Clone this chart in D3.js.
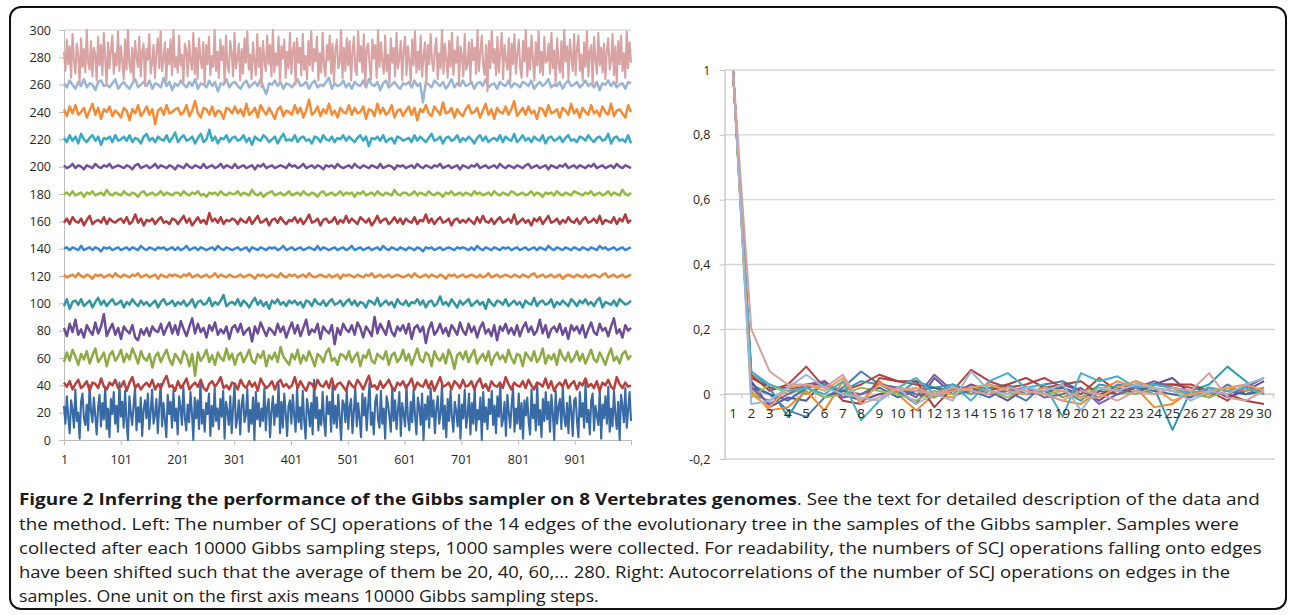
<!DOCTYPE html>
<html><head><meta charset="utf-8">
<script src="https://cdn.jsdelivr.net/npm/d3@7"></script>
<style>body{margin:0;background:#fff}svg{display:block}</style>
</head><body><svg id="c" width="1290" height="615"></svg>
<script>
// ---------- LEFT PANEL DATA ----------
const traceMeans = [20,40,60,80,100,120,140,160,180,200,220,240,260,280];
const traceColors = ["#386aa6","#b8403d","#8cab45","#6b4c96","#3196a4","#e8893a","#3d85cf","#b23b3b","#93ba41","#7250a1","#39a9c4","#f58b34","#98b4d6","#d9a3a3"];
const xTicksLeft = [1,101,201,301,401,501,601,701,801,901];
const yTicksLeft = [0,20,40,60,80,100,120,140,160,180,200,220,240,260,280,300];
// deviations from each edge's mean (thinned samples)
const dev20 = [5,-8,12,-3,-15,9,2,-11,17,-6,0,-19,8,14,-4,-9,6,-13,20,1,
-7,11,-2,-16,4,13,-10,7,-5,19,-12,3,-18,10,-1,15,-8,5,-14,22,
-3,8,-11,16,-6,-20,12,0,-9,6,18,-13,4,-7,11,-17,2,9,-4,14,
-12,1,17,-8,-2,10,-15,5,21,-10,7,-5,-18,13,-1,8,-11,16,-6,3,
-16,12,4,-9,19,-3,-13,6,-7,15,0,-20,11,-4,9,-12,23,-8,2,-14,
7,-1,14,-17,5,-10,18,-6,3,-12,10,-3,16,-19,8,1,-9,12,-15,4,
20,-11,-4,9,-16,6,13,-7,-2,17,-14,2,-8,11,-20,15,-5,7,-10,3,
-6,18,-13,4,10,-18,1,12,-9,6,-3,21,-15,8,-11,14,0,-17,5,9,
-8,13,-2,-14,19,-7,4,-12,16,-5,-19,10,3,-10,7,-16,24,-4,11,-13,
2,-9,15,-6,-17,12,-1,8,-14,20,-8,5,-11,13,-3,-20,9,6,-7,17,
-12,4,10,-15,1,18,-10,7,-4,-18,14,-2,11,-13,5,22,-9,0,-16,8,
13,-5,-11,16,-8,3,-19,12,6,-3,-14,19,-6,9,-12,2,15,-17,7,-1,
-10,20,-4,-13,8,-7,17,-2,-16,11,4,-9,14,-20,6,-5,12,-11,18,-3,
9,-15,3,12,-8,-1,21,-12,5,-18,10,-6,16,-3,-14,8,1,-10,13,-19,
6,-4,17,-11,-2,14,-16,7,-8,19,-13,2,-5,11,-20,15,-7,4,-12,10,
-1,16,-9,5,-15,12,-3,20,-10,-5,8,-17,13,0,-11,6,18,-14,3,-8,
14,-12,7,-19,9,-2,11,-7,-16,17,-4,6,-13,21,-9,2,-18,10,-6,15,
-5,8,-14,13,-1,-20,16,-8,4,10,-12,19,-3,-10,7,-15,12,1,-17,9,
11,-6,-18,15,-3,7,-11,22,-7,2,-16,9,14,-13,5,-2,-9,17,-19,6,
-4,12,-8,19,-14,3,-10,16,-1,-12,8,-20,13,5,-7,18,-11,2,15,-6];
const dev40 = [2,-1,3,-3,1,4,-2,0,3,-4,2,1,-2,5,-1,-3,2,0,4,-2,
-1,3,-4,2,6,-2,1,-3,0,2,-1,4,-3,1,-2,3,7,-1,0,-4,
3,-2,1,5,-3,0,2,-1,4,-2,-4,1,3,-1,2,6,-2,0,-3,2,
1,-3,4,0,-2,3,-1,2,-4,5,1,-2,0,3,-3,2,4,-1,1,-2,
0,6,-2,3,-1,-4,2,1,-3,4,0,-1,3,-2,5,-3,1,2,-1,-4,
3,0,-2,4,1,-3,2,7,-1,0,-3,3,-2,1,4,-1,-4,2,0,3,
-2,1,5,-3,2,0,-1,4,-2,3,-4,1,6,-1,0,2,-3,3,1,-2,
4,-1,0,3,-3,2,5,-2,1,-4,3,0,-1,2,-2,6,1,-3,2,0,
-1,3,-2,4,0,-3,2,1,-1,5,-2,3,-4,0,2,-1,4,-2,1,3,
-3,2,0,5,-1,1,-2,3,-4,2,0,4,-1,-3,6,1,-2,2,-1,0];
const dev60 = [-3,4,-2,6,1,-5,3,-1,5,-4,2,7,-3,0,4,-6,2,5,-2,1,
6,-3,3,-1,7,2,-4,5,0,-2,3,-7,1,4,-3,2,6,-1,-5,3,
0,-4,5,2,-6,3,-13,4,-2,1,6,-3,2,-5,4,0,-2,7,-1,3,
-5,2,4,-3,1,6,-2,-4,3,0,5,-6,2,-1,4,-3,8,1,-2,-5,
3,-1,6,-4,2,-2,5,0,-6,3,1,-3,4,7,-2,0,-5,3,2,-1,
5,-3,1,4,-6,2,0,6,-2,-4,3,1,-1,5,-5,2,4,-3,0,6,
-2,3,-5,1,7,-1,-3,4,2,-6,5,0,-2,3,-4,6,1,-8,2,4,
-1,5,-3,2,6,-4,0,3,-2,5,-5,1,4,-1,2,-3,6,0,-4,3,
2,-6,4,1,-2,5,-3,0,7,-4,2,-1,3,-5,6,1,-2,4,-3,0,
5,-2,3,-4,1,6,-1,-3,4,0,-5,2,7,-2,1,-4,3,5,-1,2];
const dev80 = [2,-4,5,-1,8,-3,1,-5,4,0,-3,6,-2,3,12,-4,1,5,-3,2,
-6,3,0,-2,4,-5,-7,1,-3,2,-4,3,0,-1,5,-3,2,6,-2,4,
-3,7,1,-4,3,9,-2,5,-1,2,-5,4,0,6,-3,1,-2,3,-6,2,
4,-1,5,-3,0,2,-8,3,-2,6,1,-4,2,0,-3,5,-1,3,-5,1,
6,-2,4,-4,2,8,-3,1,-1,5,-6,3,0,-2,4,-10,2,-3,5,1,
-1,4,-3,6,2,-5,3,0,-4,10,-2,5,1,-3,7,-1,-4,3,0,4,
-2,5,-6,2,4,-1,3,-9,1,6,-3,0,5,-2,2,-4,4,1,-3,6,
0,-3,5,-1,3,-5,2,6,-2,1,-4,4,-7,3,0,5,-2,2,-3,4,
-4,2,6,-1,3,-3,0,8,-2,4,-5,1,3,-1,5,-3,2,-6,4,0,
3,-2,4,-5,1,6,-1,-3,5,0,2,-4,3,9,-2,1,-5,4,0,2];
const dev100 = [-2,3,-4,1,2,-1,3,-2,0,2,-3,1,4,-1,2,-2,1,3,-1,0,
2,-3,1,-1,3,0,-2,2,-1,1,-2,0,2,-3,1,3,-1,0,2,-2,
1,-1,2,-2,0,3,-3,1,2,-1,0,4,-2,1,-1,2,6,-2,0,1,
-1,3,-2,2,0,-3,1,4,-1,2,-2,1,-4,2,0,3,-1,1,-2,2,
0,2,-1,1,-3,2,1,-2,3,0,-1,2,-2,1,3,-1,0,2,-2,1,
3,-1,2,-2,1,0,-3,2,1,-1,4,-2,0,2,-1,1,-3,3,0,-1,
2,-2,1,0,3,-1,2,-3,1,2,-2,0,5,-1,1,-2,3,0,-3,2,
-1,1,3,-2,0,2,-1,1,-4,3,0,-2,2,1,-1,3,-2,0,2,-1,
1,-3,2,0,-1,4,-2,1,2,-1,0,3,-3,1,-1,2,0,-2,3,1,
-2,2,0,3,-1,1,-2,2,4,-3,1,0,-1,2,-2,3,1,-1,0,2];
const dev120 = [1,-1,0,1,-1,2,0,-1,1,0,-2,1,0,1,-1,0,1,-1,2,0,
-1,1,0,-1,1,0,2,-1,0,1,-1,0,1,-2,1,0,-1,1,0,1,
0,-1,1,0,2,-1,0,1,-1,0,1,-1,0,2,-1,1,0,-1,1,0,
-1,0,1,-1,0,1,0,-2,1,0,1,-1,0,1,0,-1,2,0,-1,1,
0,1,-1,0,1,-1,2,0,-1,0,1,0,-1,1,-1,0,1,-2,1,0,
1,0,-1,1,0,-1,1,0,2,-1,0,1,-1,0,1,-1,0,1,0,-1,
0,1,-1,2,0,-1,0,1,-1,1,0,-1,1,0,-2,1,0,1,-1,0,
1,-1,0,1,0,-1,1,-1,0,2,-1,0,1,-1,0,1,0,-1,1,0,
-1,1,0,-1,1,2,-1,0,1,-1,0,1,-1,0,1,-2,0,1,0,-1,
1,0,-1,1,-1,0,1,0,-1,1,2,-1,0,1,-1,0,1,-1,0,1];
const dev140 = [0,1,-1,1,0,-1,2,-1,0,1,-1,1,0,-2,1,0,1,-1,0,1,
-1,0,1,-1,1,0,-1,2,0,-1,1,0,-1,1,0,1,-1,0,1,-1,
1,-1,0,2,-1,0,1,-1,1,0,-1,0,1,-1,2,0,-1,1,0,-1,
0,1,-1,0,1,-2,1,0,-1,1,0,-1,1,0,1,-1,0,2,-1,0,
1,-1,0,1,-1,0,1,0,-1,2,-1,1,0,-1,0,1,-1,0,1,-1,
0,2,-1,0,1,-1,0,1,-1,0,1,-1,2,0,-1,1,0,-1,1,0,
-1,1,0,-1,1,0,-2,1,0,1,-1,0,1,-1,0,1,0,-1,1,0,
1,0,-1,1,-1,2,0,-1,1,0,-1,1,0,-1,1,0,1,-1,0,1,
-1,0,1,-1,0,1,-1,1,0,-1,2,0,-1,1,0,-1,1,0,-1,1,
0,-1,1,0,-1,1,0,-1,2,0,1,-1,0,1,-1,0,1,-1,0,1];
const dev160 = [-1,2,-2,3,0,-1,2,-3,1,4,-2,0,1,-1,3,-2,2,0,-1,1,
2,-1,3,-2,0,5,-1,2,-3,1,0,2,-2,1,3,-1,0,-2,2,1,
-2,1,4,-1,2,-3,0,3,-1,1,-2,6,0,2,-1,3,-2,1,0,2,
1,-2,2,0,-1,3,-2,1,4,-1,0,2,-3,1,2,-1,3,0,-2,1,
0,3,-1,2,-2,1,5,-1,0,2,-3,1,2,-1,0,3,-2,1,-1,4,
-1,2,0,-2,3,1,-1,2,-3,0,4,-1,1,2,-2,0,3,-1,2,-2,
2,0,-1,3,-2,1,0,5,-1,2,-2,1,3,-1,0,2,-3,1,2,-1,
1,-1,2,0,-2,3,-1,4,0,-1,2,-2,1,3,-1,0,2,-1,5,-2,
0,2,-1,1,-3,2,0,3,-2,1,4,-1,0,2,-2,1,-1,3,0,-1,
2,-2,1,3,-1,0,2,-1,4,-2,1,0,-1,3,-2,2,0,5,-1,1];
const dev180 = [0,1,-1,2,-1,0,1,-2,1,0,2,-1,0,1,-1,3,0,-1,1,0,
-1,2,0,-1,1,0,-2,1,2,-1,0,1,-1,0,2,-1,1,0,-1,1,
1,-1,2,0,-1,1,0,2,-1,0,-2,1,0,1,-1,2,0,-1,1,0,
0,2,-1,1,0,-1,3,0,-1,1,-2,0,1,2,-1,0,1,-1,0,2,
-1,0,1,-1,2,0,-1,1,0,-2,1,2,-1,0,1,-1,0,2,-1,1,
0,1,-2,1,0,2,-1,0,1,-1,2,0,-1,1,0,-1,3,0,-1,1,
1,-1,0,2,-1,1,0,-1,2,0,-1,1,0,-2,1,0,2,-1,0,1,
-1,1,0,-1,2,0,1,-1,0,1,-1,2,0,-1,1,0,-1,2,1,-1,
0,1,-1,0,2,-1,1,0,-2,1,0,1,-1,2,0,-1,1,0,-1,2,
1,0,-1,1,0,2,-1,0,1,-1,0,2,-1,1,0,-1,3,0,-1,1];
const dev200 = [1,-1,0,2,-1,1,0,-2,1,0,-1,2,0,-1,1,0,2,-1,0,1,
0,-1,1,0,-2,1,2,-1,0,1,-1,0,2,-1,1,0,-1,1,0,-2,
1,0,-1,2,0,-1,1,0,-1,2,-1,0,1,-1,0,2,-1,1,0,-1,
2,-1,0,1,-1,0,1,-2,1,0,2,-1,0,1,-1,0,1,0,-1,2,
0,1,-1,0,2,-1,0,1,-1,1,0,-2,1,0,1,-1,2,0,-1,0,
1,-1,2,0,-1,1,0,-1,1,0,-1,2,-1,0,1,0,-2,1,0,1,
-1,0,1,-1,2,0,-1,1,0,-1,1,0,2,-1,0,1,-1,0,1,-2,
1,0,-1,1,0,2,-1,0,1,-1,0,1,-1,2,0,-1,1,0,-1,1,
0,-1,1,2,-1,0,1,-1,0,1,-2,1,0,-1,1,0,2,-1,0,1,
-1,1,0,-1,1,0,2,-1,0,1,-1,0,1,-1,2,0,-1,1,0,-1];
const dev220 = [1,-2,3,-1,2,-3,4,0,-2,1,3,-1,2,-4,1,0,2,-2,3,-1,
0,2,-1,3,-2,1,0,-3,2,4,-1,1,-2,2,0,-1,3,-2,1,5,
-2,1,3,-1,0,2,-3,1,4,-2,0,7,-1,2,-3,1,0,3,-2,1,
2,-1,0,3,-2,1,-4,2,0,-1,3,1,-2,0,2,-3,1,4,-1,0,
-1,3,-2,1,2,-1,0,-3,2,1,-2,3,0,-1,2,-2,1,0,3,-1,
2,0,-2,1,3,-1,2,-5,1,0,2,-1,3,-2,0,1,-3,2,1,-1,
0,1,-2,3,-1,2,0,-2,1,4,-1,0,2,-3,1,2,-1,0,3,-2,
1,-1,2,0,-3,1,3,-1,2,-2,0,1,-1,3,-2,2,0,-1,4,-2,
0,3,-1,1,-2,2,0,-1,3,-3,1,2,-1,0,2,-2,1,3,-1,0,
-2,2,1,-1,3,0,-2,1,2,-1,0,4,-3,1,2,-1,0,-2,3,-3];
const dev240 = [2,-3,4,-1,5,-2,0,3,-4,1,6,-2,3,-5,2,0,4,-3,1,-1,
-4,3,1,-6,2,-1,5,-3,0,4,-2,2,-9,1,3,-2,5,-1,0,2,
3,-2,0,5,-3,1,8,-1,-4,3,2,-2,4,-3,1,0,-5,3,2,-1,
4,-1,2,-3,6,-2,0,3,-4,5,1,-2,3,-1,-5,2,4,-3,1,0,
-2,5,-1,3,-4,1,9,-2,0,4,-3,2,-1,6,-2,1,-4,3,0,-1,
5,-2,3,-1,0,4,-5,2,1,-3,6,-1,3,-2,0,5,-4,1,2,-3,
1,4,-2,3,-6,2,0,5,-1,-3,4,1,-2,7,-1,0,3,-4,2,-1,
-3,2,5,-1,0,3,-4,1,6,-2,2,-5,3,0,-1,4,-2,2,8,-3,
0,3,-2,4,-1,1,-5,3,2,-3,5,-1,0,2,-4,3,1,-2,6,-1,
2,-4,3,0,-2,5,-1,1,-3,4,0,-2,6,-3,1,2,-1,-4,5,0];
const dev260 = [1,-2,3,0,-3,2,-1,4,-2,1,0,-4,2,3,-1,0,-2,1,4,-3,
0,2,-1,-3,1,4,-2,0,2,-1,3,-3,1,0,-2,5,-1,2,-4,1,
-1,3,0,-2,2,-1,4,-3,1,0,-2,3,-1,2,-5,1,0,4,-2,1,
2,-1,-3,1,3,-2,0,2,-1,4,-2,-7,1,0,3,-1,2,-3,1,0,
-2,1,4,-1,0,2,-3,1,3,-2,0,-1,2,5,-3,1,-1,0,3,-2,
1,-3,2,0,-1,3,-2,4,0,-1,2,-4,1,3,-2,0,2,-1,-3,1,
0,2,-2,3,-1,1,-13,2,0,-2,3,1,-1,2,-3,0,4,-2,1,-1,
3,-1,0,2,-3,1,2,-1,4,-2,0,1,-3,2,0,-1,3,-2,1,0,
-2,2,1,-1,3,-3,0,2,-1,1,4,-2,0,-1,2,-3,1,3,-1,0,
2,-2,0,3,-1,1,-2,2,-4,1,0,3,-1,2,-2,0,1,-3,2,1];
const dev280 = [4,-10,13,-5,8,-15,17,-2,-12,10,1,-19,14,-7,6,-11,20,-4,-9,12,
-14,7,2,-17,15,-6,9,-13,18,-1,-20,11,-8,5,16,-12,3,-6,19,-10,
8,-3,-16,13,-9,20,-5,-11,7,-18,12,1,-7,15,-14,4,10,-21,6,-2,
17,-12,-4,9,-15,3,14,-8,19,-10,-2,11,-17,6,-5,13,-13,20,-7,0,
-11,16,-6,2,-19,10,5,-14,12,-3,-9,18,-12,7,-16,14,-1,-8,11,-20,
9,-5,15,-13,1,-7,20,-10,4,-15,13,-2,8,-18,16,-6,-11,12,3,-14,
18,-8,-1,10,-17,6,-12,14,-4,19,-9,2,-16,11,-3,-13,17,-7,7,-22,
12,-2,-10,16,-5,9,-14,20,-11,3,-6,15,-19,8,-1,13,-15,4,-8,18,
-12,5,11,-20,14,-4,7,-13,17,-9,1,-16,12,-6,19,-10,6,-3,15,-17,
3,-11,18,-7,-14,9,-2,16,-12,10,-18,5,13,-8,-4,20,-15,7,-10,14,
-6,12,-17,4,15,-9,-13,19,-3,8,-11,17,-21,6,10,-5,-16,13,-1,9,
-15,20,-7,11,-3,-12,16,-10,2,-19,14,-4,7,-14,18,-8,-1,12,-17,5,
15,-13,8,-2,-18,13,-6,19,-11,4,-9,16,-14,1,11,-20,9,-5,17,-3,
-10,6,14,-16,3,-8,20,-12,10,-1,-15,12,-7,18,-13,5,-4,15,-19,8,
1,-14,17,-9,-5,11,-17,13,-2,7,-12,20,-10,4,16,-6,-13,9,-25,12,
-8,19,-4,6,-13,15,-11,3,18,-16,9,-1,-9,14,-18,10,-5,17,-12,2,
13,-7,-15,12,-3,20,-14,7,-9,16,-2,-17,11,-6,19,-11,4,-13,15,-4,
-2,10,-12,18,-8,5,-19,14,-5,-11,12,-15,20,-3,8,-16,13,1,-10,17,
-13,6,16,-10,2,-17,11,-7,19,-14,4,9,-20,15,-1,-12,18,-6,7,-11,
10,-16,5,14,-9,-3,17,-13,8,-19,12,-5,16,-10,3,-15,19,-8,11,-4];
const traceDevs = [dev20,dev40,dev60,dev80,dev100,dev120,dev140,dev160,dev180,dev200,dev220,dev240,dev260,dev280];

// ---------- RIGHT PANEL DATA ----------
const lags = d3.range(1,31);
const yTicksRight = [-0.2,0,0.2,0.4,0.6,0.8,1];
const acfA=[1,0.03,0.00,-0.05,-0.07,-0.01,0.02,0.07,0.03,0.02,0.00,-0.01,0.02,0.00,0.03,0.01,-0.02,0.03,0.04,0.01,-0.01,0.03,0.02,0.00,0.02,0.01,-0.01,0.03,0.00,0.02];
const acfB=[1,0.06,0.01,0.03,0.085,0.02,0.01,0.03,0.06,0.04,0.03,0.02,0.01,0.075,0.04,0.02,0.03,0.05,0.02,0.00,0.05,0.01,0.02,0.03,0.03,0.02,0.01,-0.02,0.03,0.00];
const acfC=[1,0.00,-0.02,0.02,0.00,0.03,0.01,-0.02,0.00,0.02,0.01,-0.01,0.03,0.00,0.02,0.01,0.00,0.02,-0.01,0.01,0.02,0.00,0.01,0.03,0.02,0.00,0.01,0.02,0.00,0.01];
const acfD=[1,0.04,-0.04,-0.01,-0.02,0.04,0.00,-0.02,0.00,0.01,-0.03,0.05,0.00,0.03,0.01,-0.02,0.02,0.00,0.03,0.01,-0.02,0.02,0.00,0.03,0.05,0.00,0.02,-0.01,0.01,0.04];
const acfE=[1,0.07,0.02,-0.07,0.02,0.03,0.01,0.04,0.03,0.00,0.04,0.02,0.03,0.01,0.02,0.03,0.00,0.02,0.01,-0.02,0.03,0.02,0.04,0.02,-0.11,0.01,0.03,0.085,0.04,0.00];
const acfF=[1,0.01,-0.05,-0.04,0.01,-0.05,0.04,-0.03,0.04,0.00,-0.05,0.00,-0.01,0.02,0.00,0.01,0.02,0.00,-0.02,-0.03,0.01,0.04,0.02,-0.04,-0.03,0.01,0.00,0.02,0.01,0.02];
const acfG=[1,0.02,0.00,-0.02,0.02,-0.01,0.01,0.00,0.02,-0.01,0.01,0.02,0.00,0.01,-0.01,0.02,0.00,0.01,0.02,-0.01,0.01,0.00,0.02,0.01,0.00,-0.01,0.02,0.01,0.00,0.01];
const acfH=[1,0.05,0.02,0.02,0.02,0.04,-0.02,-0.03,0.05,0.04,0.04,-0.04,0.02,0.02,0.01,0.03,0.05,0.02,0.03,0.04,0.00,0.01,0.03,0.03,0.03,0.03,0.01,0.00,-0.02,-0.03];
const acfI=[1,-0.01,0.03,0.00,0.02,-0.01,0.00,0.02,0.01,0.00,-0.02,0.01,0.00,0.02,0.01,-0.01,0.02,0.00,0.01,-0.01,0.02,0.01,0.00,0.02,0.01,0.00,-0.01,0.01,0.02,0.00];
const acfJ=[1,0.02,-0.03,0.00,0.03,0.04,-0.01,0.00,0.03,0.02,-0.01,0.06,0.01,0.02,0.00,0.01,0.02,-0.01,0.00,0.02,-0.03,0.00,0.02,0.04,0.02,0.00,0.01,0.00,0.02,0.05];
const acfK=[1,0.07,0.03,0.01,0.02,0.00,0.04,-0.08,-0.02,0.02,0.05,0.00,0.03,-0.02,0.04,0.065,0.02,0.03,-0.07,0.065,0.04,0.055,0.02,0.03,0.02,0.00,0.02,0.01,0.02,0.00];
const acfL=[1,0.00,-0.04,0.02,0.03,0.01,0.05,-0.02,0.03,0.01,0.02,0.00,0.01,0.02,0.03,0.01,0.00,0.02,0.01,-0.01,-0.01,0.02,0.04,0.02,-0.02,0.00,0.01,0.02,0.03,0.01];
const acfM=[1,-0.03,-0.02,0.02,0.06,0.02,0.00,-0.01,-0.02,0.02,-0.03,0.00,-0.02,0.07,0.01,0.00,0.02,0.01,0.03,-0.05,0.02,0.01,0.03,0.02,0.01,-0.02,0.01,0.00,0.03,0.05];
const acfN=[1,0.20,0.07,0.03,0.03,0.02,0.06,-0.03,-0.01,0.02,0.01,0.00,0.02,0.01,0.00,0.02,0.01,0.00,-0.02,0.01,0.00,-0.02,0.01,0.00,0.02,0.01,0.065,-0.01,-0.02,0.01];
const acfSeries=[acfA,acfB,acfC,acfD,acfE,acfF,acfG,acfH,acfI,acfJ,acfK,acfL,acfM,acfN];
const acfColors=["#4a7ab5","#b8403d","#8cab45","#6b4c96","#2f9bb0","#f08a30","#3d6ea6","#a8403a","#9cbc5a","#7d5fa5","#44b0c8","#f29a55","#9ab6d8","#d6a0a0"];

// ---------- CAPTION ----------
const captionLines = [
  [["Figure 2 Inferring the performance of the Gibbs sampler on 8 Vertebrates genomes",true],[". See the text for detailed description of the data and",false]],
  [["the method. Left: The number of SCJ operations of the 14 edges of the evolutionary tree in the samples of the Gibbs sampler. Samples were",false]],
  [["collected after each 10000 Gibbs sampling steps, 1000 samples were collected. For readability, the numbers of SCJ operations falling onto edges",false]],
  [["have been shifted such that the average of them be 20, 40, 60,... 280. Right: Autocorrelations of the number of SCJ operations on edges in the",false]],
  [["samples. One unit on the first axis means 10000 Gibbs sampling steps.",false]]
];
const captionWidths = [1242,1220,1244,1212,580];

// ---------- DRAW ----------
const svg = d3.select("#c");
const FONT = "'Open Sans', 'DejaVu Sans', sans-serif";
svg.append("rect").attr("x",10).attr("y",7).attr("width",1276).attr("height",602)
  .attr("rx",11).attr("fill","none").attr("stroke","#111").attr("stroke-width",2);

// Left panel
const xL = d3.scaleLinear().domain([1,1000]).range([64,631]);
const yL = d3.scaleLinear().domain([0,300]).range([440,30]);
const gL = svg.append("g");
gL.append("line").attr("x1",xL(1)).attr("x2",xL(1000)).attr("y1",yL(300)).attr("y2",yL(300)).attr("stroke","#c9c9c9");
const axL = gL.append("g").attr("transform",`translate(${xL(1)},0)`)
  .call(d3.axisLeft(yL).tickValues(yTicksLeft).tickSize(5).tickPadding(8).tickSizeOuter(0));
const axB = gL.append("g").attr("transform",`translate(0,${yL(0)})`)
  .call(d3.axisBottom(xL).tickValues(xTicksLeft.concat([1000])).tickSize(5).tickPadding(10).tickSizeOuter(0).tickFormat(d=>d===1000?"":d));
[axL,axB].forEach(a=>{
  a.select(".domain").attr("stroke","#bdbdbd");
  a.selectAll(".tick line").attr("stroke","#bdbdbd");
  a.selectAll("text").attr("font-family",FONT).attr("font-size",12.5).attr("fill","#262626");
});

traceDevs.forEach((devs,k)=>{
  const n = devs.length;
  const line = d3.line().x((d,i)=>xL(1 + i*999/(n-1))).y(d=>yL(traceMeans[k]+d));
  gL.append("path").attr("d",line(devs)).attr("fill","none")
    .attr("stroke",traceColors[k]).attr("stroke-width", n>200 ? 2.1 : 2.5).attr("stroke-linejoin","round");
});

// Right panel
const xR = d3.scalePoint().domain(lags).range([733,1264]);
const yR = d3.scaleLinear().domain([-0.2,1]).range([459,70]);
const gR = svg.append("g");
const plotL = 724.5, plotR = 1275;
yTicksRight.forEach(t=>{
  gR.append("line").attr("x1",plotL).attr("x2",plotR).attr("y1",yR(t)).attr("y2",yR(t))
    .attr("stroke", t===0 ? "#bdbdbd" : "#d4d4d4").attr("stroke-width",1.3);
});
const axRY = gR.append("g").attr("transform",`translate(${plotL},0)`)
  .call(d3.axisLeft(yR).tickValues(yTicksRight).tickSize(5).tickPadding(9).tickSizeOuter(0)
    .tickFormat(d=> d===0?"0":d===1?"1":d3.format(".1f")(d).replace(".",",").replace("\u2212","-")));
axRY.select(".domain").attr("stroke","#c4c4c4").attr("stroke-width",1.3);
axRY.selectAll(".tick line").attr("stroke","#c4c4c4");
axRY.selectAll("text").attr("font-family",FONT).attr("font-size",12.5).attr("fill","#262626");
lags.forEach(l=>{
  gR.append("line").attr("x1",xR(l)+xR.step()/2).attr("x2",xR(l)+xR.step()/2)
    .attr("y1",yR(0)).attr("y2",yR(0)+4).attr("stroke","#c4c4c4");
});
acfSeries.forEach((s,k)=>{
  const line = d3.line().x((d,i)=>xR(lags[i])).y(d=>yR(d));
  gR.append("path").attr("d",line(s)).attr("fill","none")
    .attr("stroke",acfColors[k]).attr("stroke-width",2).attr("stroke-linejoin","round");
});
gR.selectAll("text.lag").data(lags).join("text").attr("class","lag")
  .attr("x",d=>xR(d)).attr("y",yR(0)+24).attr("text-anchor","middle")
  .attr("font-family",FONT).attr("font-size",13.5).attr("fill","#262626").text(d=>d);

// Caption
const capY = [505,530,554,578,602];
captionLines.forEach((parts,i)=>{
  const t = svg.append("text").attr("font-family",FONT).attr("font-size",16.5).attr("fill","#1a1a1a")
    .attr("transform",`translate(19,${capY[i]})`);
  parts.forEach(p=>{
    t.append("tspan").attr("font-weight",p[1]?"bold":"normal").text(p[0]);
  });
  const w = t.node().getComputedTextLength();
  t.attr("transform",`translate(19,${capY[i]}) scale(${captionWidths[i]/w},1)`);
});
</script>
</body></html>
